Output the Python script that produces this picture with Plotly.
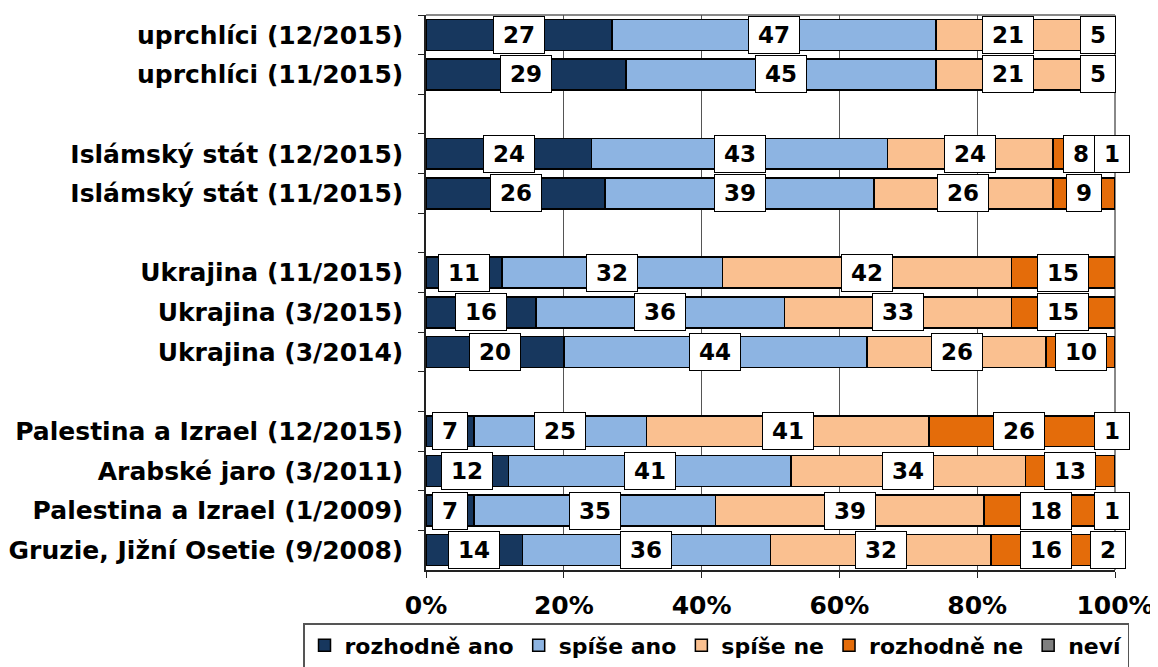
import plotly.graph_objects as go

categories = [
    "uprchlíci (12/2015)", "uprchlíci (11/2015)", " ",
    "Islámský stát (12/2015)", "Islámský stát (11/2015)", "  ",
    "Ukrajina (11/2015)", "Ukrajina (3/2015)", "Ukrajina (3/2014)", "   ",
    "Palestina a Izrael (12/2015)", "Arabské jaro (3/2011)",
    "Palestina a Izrael (1/2009)", "Gruzie, Jižní Osetie (9/2008)",
]
rozhodne_ano = [27, 29, None, 24, 26, None, 11, 16, 20, None, 7, 12, 7, 14]
spise_ano    = [47, 45, None, 43, 39, None, 32, 36, 44, None, 25, 41, 35, 36]
spise_ne     = [21, 21, None, 24, 26, None, 42, 33, 26, None, 41, 34, 39, 32]
rozhodne_ne  = [5, 5, None, 8, 9, None, 15, 15, 10, None, 26, 13, 18, 16]
nevi         = [0, 0, None, 1, 0, None, 0, 0, 0, None, 1, 0, 1, 2]

series = [
    ("rozhodně ano", rozhodne_ano, "#17375E"),
    ("spíše ano", spise_ano, "#8DB4E2"),
    ("spíše ne", spise_ne, "#FAC090"),
    ("rozhodně ne", rozhodne_ne, "#E46C0A"),
    ("neví", nevi, "#7F7F7F"),
]
tick_vals = [0, 20, 40, 60, 80, 100]
tick_text = ["0%", "20%", "40%", "60%", "80%", "100%"]

FONT = "Verdana, DejaVu Sans, sans-serif"

fig = go.Figure()
for name, vals, col in series:
    fig.add_trace(go.Bar(
        y=categories, x=vals, name=name, orientation="h",
        marker=dict(color=col, line=dict(color="black", width=1.5)),
        hoverinfo="skip",
    ))

annotations = []
cum = [0.0] * len(categories)
for name, vals, col in series:
    for i, v in enumerate(vals):
        if v is None:
            continue
        if v > 0:
            txt = str(v)
            annotations.append(dict(
                x=cum[i] + v / 2, y=categories[i], xref="x", yref="y",
                text=txt, showarrow=False,
                font=dict(family=FONT, size=23, color="black", weight="bold"),
                bgcolor="white", bordercolor="black", borderwidth=1,
                borderpad=3, width=len(txt) * 16 + 12, height=30,
            ))
        cum[i] += v

fig.update_layout(
    barmode="stack",
    bargap=0.22,
    width=1158, height=667,
    # page body has an 8px default margin; compensate so the plot sits at 426..1115 / 15..570
    margin=dict(l=418, r=51, t=7, b=105, autoexpand=False),
    plot_bgcolor="white", paper_bgcolor="white",
    annotations=annotations,
    showlegend=True,
    legend=dict(
        orientation="h", x=-0.1785, xanchor="left", y=-0.0955, yanchor="top",
        font=dict(family=FONT, size=22, color="black", weight="bold"),
        bordercolor="#555555", borderwidth=1.5,
        itemwidth=30, traceorder="normal",
    ),
    xaxis=dict(
        range=[0, 100], tickvals=tick_vals, ticktext=tick_text,
        showgrid=True, gridcolor="#555555", gridwidth=1,
        showline=True, linecolor="#222222", linewidth=1.5,
        zeroline=False, ticks="outside", ticklen=6, tickcolor="#222222",
        ticklabelstandoff=6,
        tickfont=dict(family=FONT, size=25, color="black", weight="bold"),
        automargin=False,
    ),
    yaxis=dict(
        autorange="reversed", type="category",
        showline=True, linecolor="#222222", linewidth=1.5,
        ticks="outside", tickson="boundaries", ticklen=6, tickcolor="#222222",
        ticklabelstandoff=16,
        tickfont=dict(family=FONT, size=25, color="black", weight="bold"),
        showgrid=False, automargin=False,
    ),
    shapes=[
        dict(type="line", xref="paper", yref="paper", x0=0, x1=1, y0=1, y1=1,
             line=dict(color="#888888", width=2), layer="below"),
        dict(type="line", xref="paper", yref="paper", x0=1, x1=1, y0=0, y1=1,
             line=dict(color="#888888", width=2), layer="below"),
    ],
)

fig.write_html("out.html")
